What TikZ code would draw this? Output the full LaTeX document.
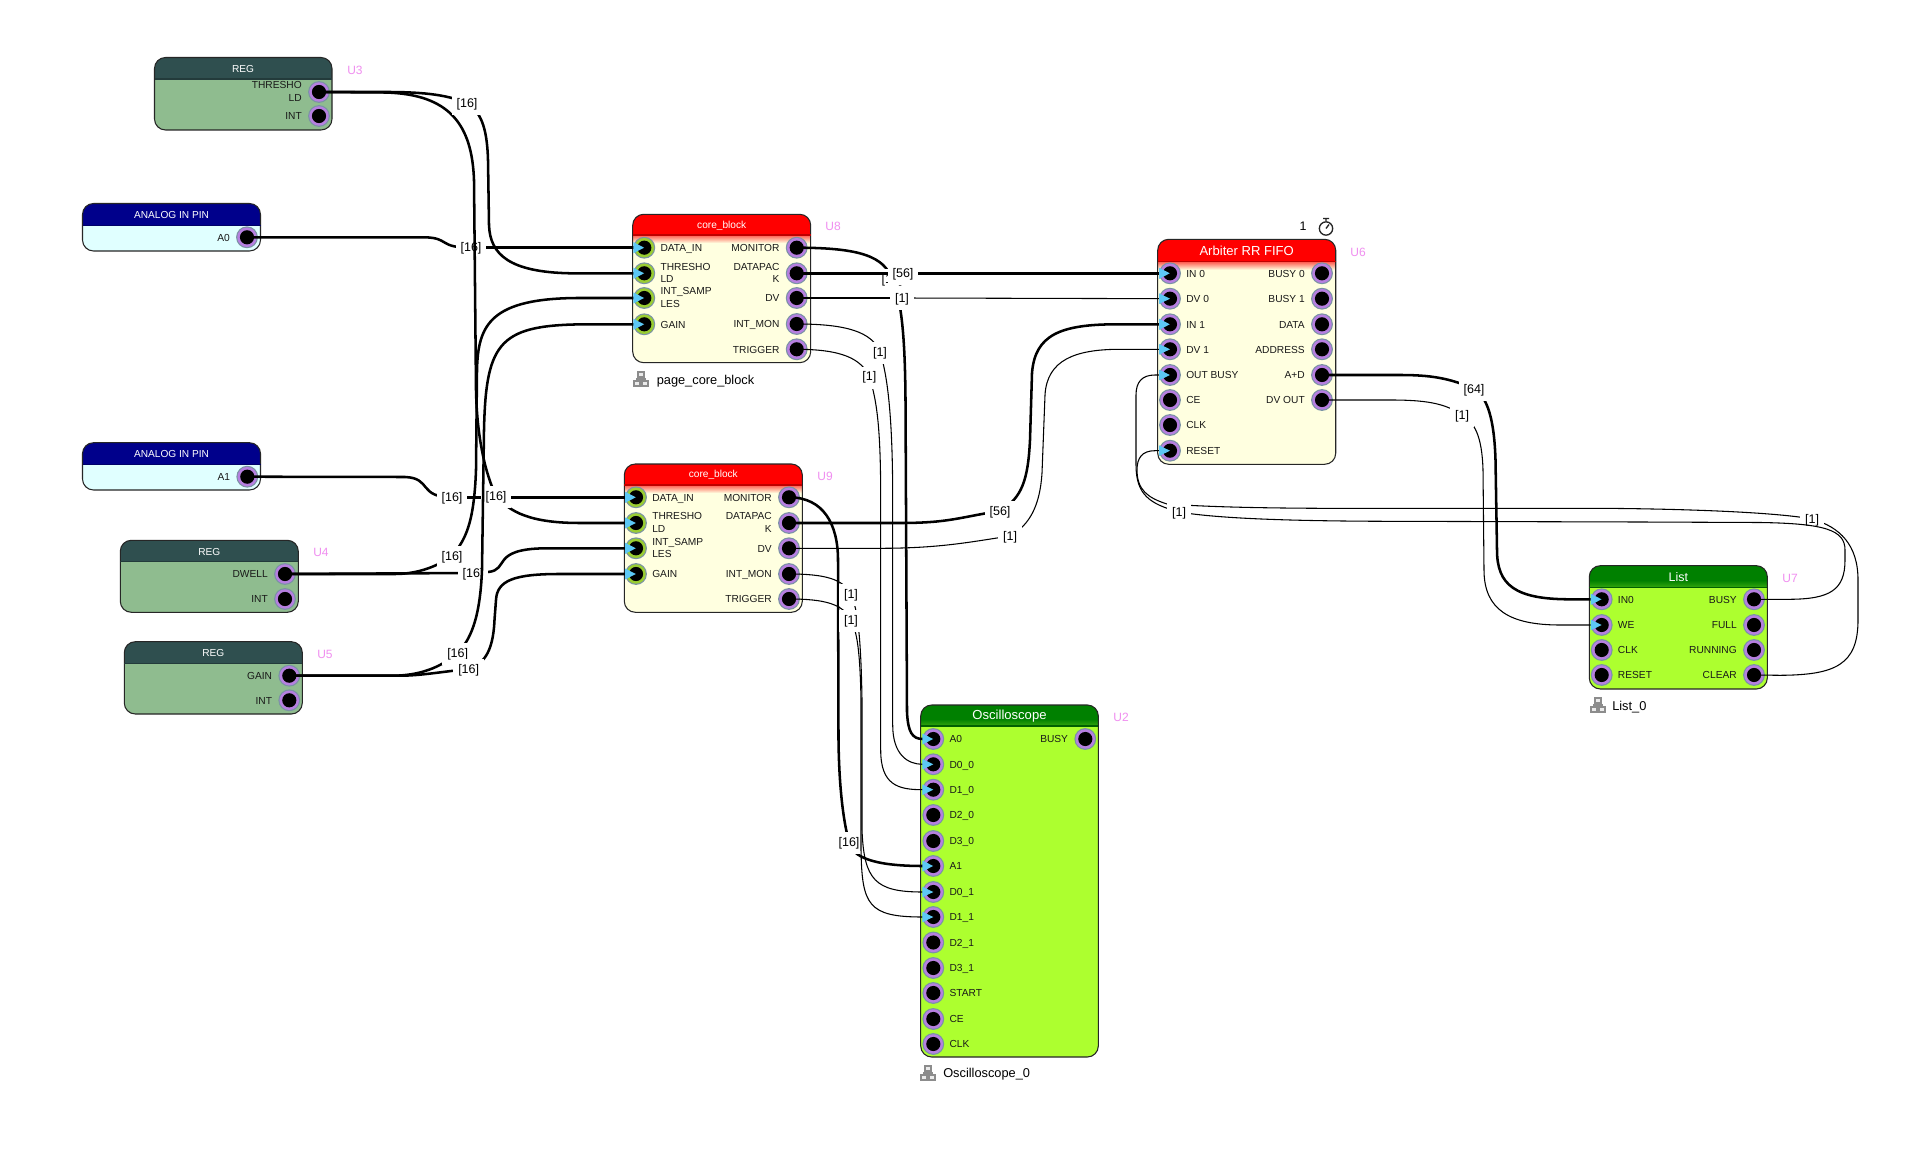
\documentclass[tikz,border=0pt]{standalone}
\usepackage{fontspec}
\setmainfont{Liberation Sans}
\usetikzlibrary{arrows.meta,fit,calc}
\definecolor{regh}{HTML}{2F4F4F}
\definecolor{regb}{HTML}{8FBC8F}
\definecolor{anah}{HTML}{00008B}
\definecolor{anab}{HTML}{E0FFFF}
\definecolor{coreb}{HTML}{FFFFE0}
\definecolor{limeb}{HTML}{ADFF2F}
\definecolor{grnh}{HTML}{008000}
\definecolor{purp}{HTML}{B67FE0}
\definecolor{ygrn}{HTML}{9ACD32}
\definecolor{halo}{HTML}{7B93A5}
\definecolor{tip}{HTML}{5CC8F5}
\definecolor{pinkU}{HTML}{F08FF0}
\tikzset{
  boxnode/.style={inner sep=0pt,rounded corners=8.25pt},
  blockline/.style={draw=black!85,line width=0.8pt,rounded corners=8.25pt},
  oneline/.style={text height=5.6pt,text depth=0pt},
  twoline/.style={yshift=0.4pt},
  pintext/.style={inner sep=0pt,font=\fontsize{7.65}{9.2}\selectfont,text=black!90},
  titletext/.style={inner sep=0pt,text=white,yshift=-0.6pt,font=\fontsize{7.6}{9}\selectfont},
  bigtitle/.style={inner sep=0pt,text=white,yshift=-0.8pt,font=\fontsize{9.8}{11}\selectfont},
  utext/.style={inner sep=0pt,text=pinkU,font=\fontsize{9}{11}\selectfont},
  pagetext/.style={inner sep=0pt,anchor=west,yshift=-0.8pt,font=\fontsize{9.6}{11}\selectfont},
  lbl/.style={fill=white,inner xsep=3.75pt,inner ysep=0pt,minimum height=16.5pt,yshift=-0.7pt,font=\fontsize{9.4}{11}\selectfont},
  bus/.style={draw=black,line width=1.9pt},
  sig/.style={draw=black,line width=0.8pt},
  arr/.style={-{Triangle[length=8.25pt,width=7.8pt,fill=tip,color=tip]}},
}
\newcommand\blk[9]{%
  \coordinate (#1nw) at (#2,#3);
  \coordinate (#1se) at (#4,#5);
  \node[boxnode,fit=(#1nw)(#1se),fill=#8] (#1) {};
  \begin{scope}
    \clip[rounded corners=8.25pt] (#2,#3) rectangle (#4,#5);
    \fill[#7] (#2,#3) rectangle (#4,#6);
    #9
  \end{scope}
  \draw[blockline] (#2,#3) rectangle (#4,#5);
  \draw[#7!75!black,line width=0.8pt] (#2,#6) -- (#4,#6);
}
\newcommand\fadeR[3]{\shade[top color=red!65!coreb,bottom color=coreb] (#1,#3) rectangle (#2,#3+8);}
\newcommand\fadeG[3]{\shade[top color=grnh,bottom color=grnh!70!limeb] (#1,#3-7) rectangle (#2,#3);}
\newcommand\ring[4]{%
  \coordinate (#1) at (#2,#3);
  \fill[halo] (#1) circle[radius=8.2pt];
  \fill[#4] (#1) circle[radius=7.3pt];
  \fill[black] (#1) circle[radius=5.3pt];
}
\newcommand\pinL[6][oneline]{\ring{#2}{#3}{#4}{#5}%
  \node[pintext,#1,align=left,anchor=west] (#2t) at ($(#2)+(16,0)$) {#6};}
\newcommand\pinR[5][oneline]{\ring{#2}{#3}{#4}{purp}%
  \node[pintext,#1,align=right,anchor=east] (#2t) at ($(#2)+(-17,0)$) {#5};}
\newcommand\hier[3]{%
  \draw[black!45,line width=0.8pt,fill=black!8] (#2-3,#3-7) rectangle (#2+3,#3-2);
  \draw[black!45,line width=0.8pt,fill=black!8] (#2-7,#3+2) rectangle (#2-1,#3+7);
  \draw[black!45,line width=0.8pt,fill=black!8] (#2+1,#3+2) rectangle (#2+7,#3+7);
  \draw[black!45,line width=0.8pt] (#2,#3-2) -- (#2,#3) (#2-4,#3+2) -- (#2-4,#3) -- (#2+4,#3) -- (#2+4,#3+2);
}
\newcommand\lab[3]{\node[lbl] (#1) at (#2) {[#3]};}
\begin{document}
\begin{tikzpicture}[x=0.75pt,y=-0.75pt]
\useasboundingbox (0,0) rectangle (1923,1151);
\fill[white] (0,0) rectangle (1923,1151);

% ---- blocks
\blk{U3}{154.5}{57.5}{332}{130}{79}{regh}{regb}{}
\node[titletext] (U3h) at (243,68) {REG};
\node[utext] (U3u) at (355,70) {U3};
\pinR[twoline]{U3a}{319}{92}{THRESHO\\LD}
\pinR{U3b}{319}{116}{INT}

\blk{A0b}{82.5}{203.5}{260.5}{251}{225.7}{anah}{anab}{}
\node[titletext] (A0h) at (171.5,214.5) {ANALOG IN PIN};
\pinR{A0a}{247}{237.3}{A0}

\blk{A1b}{82.5}{442.7}{260.5}{490}{464.7}{anah}{anab}{}
\node[titletext] (A1h) at (171.5,453.7) {ANALOG IN PIN};
\pinR{A1a}{247.3}{476.7}{A1}

\blk{U4}{120.3}{540.3}{298.3}{612.3}{561.3}{regh}{regb}{}
\node[titletext] (U4h) at (209.3,551) {REG};
\node[utext] (U4u) at (321,552) {U4};
\pinR{U4a}{285}{574}{DWELL}
\pinR{U4b}{285}{599}{INT}

\blk{U5}{124.3}{641.7}{302.3}{714}{663.3}{regh}{regb}{}
\node[titletext] (U5h) at (213.3,652.5) {REG};
\node[utext] (U5u) at (325,654) {U5};
\pinR{U5a}{289.3}{675.7}{GAIN}
\pinR{U5b}{289.3}{700.3}{INT}

\blk{U8}{632.7}{214.3}{810.7}{362.7}{235}{red}{coreb}{\fadeR{632.7}{810.7}{235}}
\node[titletext] (U8h) at (721.7,224.7) {core\_block};
\node[utext] (U8u) at (833,226) {U8};
\pinL{U8i1}{644.3}{247.7}{ygrn}{DATA\_IN}
\pinL[twoline]{U8i2}{644.3}{273.3}{ygrn}{THRESHO\\LD}
\pinL[twoline]{U8i3}{644.3}{298}{ygrn}{INT\_SAMP\\LES}
\pinL{U8i4}{644.3}{324.3}{ygrn}{GAIN}
\pinR{U8o1}{796.7}{247.7}{MONITOR}
\pinR[twoline]{U8o2}{796.7}{273.3}{DATAPAC\\K}
\pinR{U8o3}{796.7}{298}{DV}
\pinR{U8o4}{796.7}{324}{INT\_MON}
\pinR{U8o5}{796.7}{349.3}{TRIGGER}
\hier{U8ic}{641}{379}
\node[pagetext] (U8p) at (656.5,380) {page\_core\_block};

\blk{U9}{624.3}{464}{802.3}{612.3}{485}{red}{coreb}{\fadeR{624.3}{802.3}{485}}
\node[titletext] (U9h) at (713.3,474.5) {core\_block};
\node[utext] (U9u) at (825,476) {U9};
\pinL{U9i1}{636}{497.3}{ygrn}{DATA\_IN}
\pinL[twoline]{U9i2}{636}{523}{ygrn}{THRESHO\\LD}
\pinL[twoline]{U9i3}{636}{548.3}{ygrn}{INT\_SAMP\\LES}
\pinL{U9i4}{636}{574}{ygrn}{GAIN}
\pinR{U9o1}{789}{497.3}{MONITOR}
\pinR[twoline]{U9o2}{789}{523}{DATAPAC\\K}
\pinR{U9o3}{789}{548.3}{DV}
\pinR{U9o4}{789}{574}{INT\_MON}
\pinR{U9o5}{789}{599}{TRIGGER}

\blk{U6}{1157.7}{239.3}{1335.7}{464.3}{261.7}{red}{coreb}{\fadeR{1157.7}{1335.7}{261.7}}
\node[bigtitle] (U6h) at (1246.7,250) {Arbiter RR FIFO};
\node[utext] (U6u) at (1358,252) {U6};
\pinL{U6i1}{1170}{273.3}{purp}{IN 0}
\pinL{U6i2}{1170}{298.7}{purp}{DV 0}
\pinL{U6i3}{1170}{324.3}{purp}{IN 1}
\pinL{U6i4}{1170}{349.3}{purp}{DV 1}
\pinL{U6i5}{1170}{375}{purp}{OUT BUSY}
\pinL{U6i6}{1170}{400}{purp}{CE}
\pinL{U6i7}{1170}{425}{purp}{CLK}
\pinL{U6i8}{1170}{450.7}{purp}{RESET}
\pinR{U6o1}{1322}{273.3}{BUSY 0}
\pinR{U6o2}{1322}{298.7}{BUSY 1}
\pinR{U6o3}{1322}{324.3}{DATA}
\pinR{U6o4}{1322}{349.3}{ADDRESS}
\pinR{U6o5}{1322}{375}{A+D}
\pinR{U6o6}{1322}{400}{DV OUT}
\node[inner sep=0pt,font=\fontsize{9.3}{11}\selectfont] (U6n) at (1303,226) {1};
\coordinate (U6w) at (1326,228.5);
\draw[black!85,line width=1pt] (U6w) circle[radius=5pt];
\draw[black!85,line width=1pt] (1326,219) -- (1326,221) (1323,218.5) -- (1329,218.5) (U6w) -- (1329,224.5);

\blk{U7}{1589.3}{565.7}{1767.3}{689}{587.3}{grnh}{limeb}{\fadeG{1589.3}{1767.3}{587.3}}
\node[bigtitle,font=\fontsize{9.3}{11}\selectfont] (U7h) at (1678.3,575.5) {List};
\node[utext] (U7u) at (1790,578) {U7};
\pinL{U7i1}{1601.7}{599.3}{purp}{IN0}
\pinL{U7i2}{1601.7}{625}{purp}{WE}
\pinL{U7i3}{1601.7}{650}{purp}{CLK}
\pinL{U7i4}{1601.7}{675}{purp}{RESET}
\pinR{U7o1}{1754}{599.3}{BUSY}
\pinR{U7o2}{1754}{625}{FULL}
\pinR{U7o3}{1754}{650}{RUNNING}
\pinR{U7o4}{1754}{675}{CLEAR}
\hier{U7ic}{1598}{705}
\node[pagetext] (U7p) at (1612,706.5) {List\_0};

\blk{U2}{920.7}{705}{1098.3}{1057}{726}{grnh}{limeb}{\fadeG{920.7}{1098.3}{726}}
\node[bigtitle] (U2h) at (1009.5,715.5) {Oscilloscope};
\node[utext] (U2u) at (1121,717) {U2};
\pinL{U2i1}{933.3}{739}{purp}{A0}
\pinL{U2i2}{933.3}{764.3}{purp}{D0\_0}
\pinL{U2i3}{933.3}{789.7}{purp}{D1\_0}
\pinL{U2i4}{933.3}{815}{purp}{D2\_0}
\pinL{U2i5}{933.3}{841}{purp}{D3\_0}
\pinL{U2i6}{933.3}{866}{purp}{A1}
\pinL{U2i7}{933.3}{892}{purp}{D0\_1}
\pinL{U2i8}{933.3}{917}{purp}{D1\_1}
\pinL{U2i9}{933.3}{942.5}{purp}{D2\_1}
\pinL{U2i10}{933.3}{968}{purp}{D3\_1}
\pinL{U2i11}{933.3}{993}{purp}{START}
\pinL{U2i12}{933.3}{1019}{purp}{CE}
\pinL{U2i13}{933.3}{1044}{purp}{CLK}
\pinR{U2o1}{1085.3}{739}{BUSY}
\hier{U2ic}{928}{1073}
\node[pagetext] (U2p) at (943,1073.5) {Oscilloscope\_0};

% ---- label positions
\coordinate (cA0) at (471,247.7);
\coordinate (cA1) at (452,497.3);
\coordinate (cT9) at (496,496);
\coordinate (cT8) at (467,103);
\coordinate (cD8) at (452,556);
\coordinate (cD9) at (473,573);
\coordinate (cG8) at (457.7,653);
\coordinate (cG9) at (468.7,669);
\coordinate (cM8) at (892,279);
\coordinate (cP8) at (903,273.3);
\coordinate (cV8) at (902,298);
\coordinate (cI8) at (880,352);
\coordinate (cR8) at (869.3,376.7);
\coordinate (cM9) at (849,842);
\coordinate (cP9) at (1000,511);
\coordinate (cV9) at (1010,536);
\coordinate (cI9) at (851,594);
\coordinate (cR9) at (851,620);
\coordinate (cAD) at (1474,389);
\coordinate (cDO) at (1462,415);
\coordinate (cCL) at (1812,519);
\coordinate (cBS) at (1179,512);

% ---- left nets
\draw[bus] (A0a) -- (425,237.3) .. controls (450,238) and (438,247.7) .. (cA0);
\draw[bus,arr] (cA0) -- (U8i1);
\lab{lA0}{cA0}{16}

\draw[bus] (A1a) -- (405,477) .. controls (432,478) and (418,497.3) .. (cA1);
\draw[bus,arr] (cA1) -- (U9i1);
\lab{lA1}{cA1}{16}

\draw[bus] (U3a) -- (385,92.5) .. controls (450,94) and (472,125) .. (474,180) -- (476,390) .. controls (477,440) and (486,475) .. (cT9);
\draw[bus,arr] (cT9) .. controls (510,512) and (530,523) .. (580,523) -- (U9i2);
\lab{lT9}{cT9}{16}

\draw[bus] (U3a) -- (385,92) .. controls (420,92) and (445,94) .. (cT8);
\draw[bus,arr] (cT8) .. controls (480,112) and (487,125) .. (488,160) -- (489,225) .. controls (490,255) and (510,272) .. (570,273.3) -- (U8i2);
\lab{lT8}{cT8}{16}

\draw[bus] (U4a) -- (395,574) .. controls (415,574) and (435,568) .. (cD8);
\draw[bus,arr] (cD8) .. controls (465,540) and (474,525) .. (476,470) -- (477,370) .. controls (478,325) and (490,298) .. (580,298) -- (U8i3);
\lab{lD8}{cD8}{16}

\draw[bus] (U4a) -- (cD9);
\draw[bus,arr] (cD9) -- (488,572) .. controls (510,570) and (490,549) .. (545,548.3) -- (U9i3);
\lab{lD9}{cD9}{16}

\draw[bus] (U5a) -- (395,675.7) .. controls (420,675) and (440,668) .. (cG8);
\draw[bus,arr] (cG8) .. controls (470,640) and (480,620) .. (482,570) -- (484,430) .. controls (486,340) and (500,324.3) .. (590,324.3) -- (U8i4);
\lab{lG8}{cG8}{16}

\draw[bus] (U5a) -- (400,675.7) .. controls (420,675.7) and (440,672) .. (cG9);
\draw[bus,arr] (cG9) .. controls (482,664) and (493,655) .. (494.5,620) -- (496,600) .. controls (497,580) and (515,574) .. (560,574) -- (U9i4);
\lab{lG9}{cG9}{16}

% ---- U8 outputs
\draw[bus] (U8o1) .. controls +(65,0) and +(-8,-22) .. (cM8);
\draw[bus,arr] (cM8) .. controls (902,300) and (905,340) .. (905.5,400) -- (907,712) .. controls (908,732) and (912,739) .. (U2i1);
\lab{lM8}{cM8}{16}

\draw[bus] (U8o2) -- (cP8);
\draw[bus,arr] (cP8) -- (U6i1);
\lab{lP8}{cP8}{56}

\draw[sig] (U8o3) -- (cV8);
\draw[sig,arr] (cV8) -- (U6i2);
\lab{lV8}{cV8}{1}

\draw[sig] (U8o4) .. controls +(50,0) and +(-8,-20) .. (cI8);
\draw[sig,arr] (cI8) .. controls +(8,25) and (892.7,420) .. (892.7,500) -- (892.7,725) .. controls (892.7,755) and (908,764.3) .. (U2i2);
\lab{lI8}{cI8}{1}

\draw[sig] (U8o5) .. controls +(45,0) and +(-8,-18) .. (cR8);
\draw[sig,arr] (cR8) .. controls +(8,25) and (880.7,430) .. (880.7,500) -- (880.7,750) .. controls (880.7,785) and (898,789.7) .. (U2i3);
\lab{lR8}{cR8}{1}

% ---- U9 outputs
\draw[bus] (U9o1) .. controls +(35,0) and (838,525) .. (838,560) -- (838.5,740) .. controls (839,785) and (843,820) .. (cM9);
\draw[bus,arr] (cM9) .. controls (852,857) and (873,866) .. (U2i6);
\lab{lM9}{cM9}{16}

\draw[bus] (U9o2) -- (900,523) .. controls +(50,0) and (960,517) .. (cP9);
\draw[bus,arr] (cP9) .. controls (1022,498) and (1028,480) .. (1030,440) -- (1032,373) .. controls (1035,335) and (1060,324.3) .. (1117,324.3) -- (U6i3);
\lab{lP9}{cP9}{56}

\draw[sig] (U9o3) -- (880,548.3) .. controls (940,548.3) and (970,542) .. (cV9);
\draw[sig,arr] (cV9) .. controls (1030,525) and (1040,505) .. (1042,473) -- (1045,395) .. controls (1047,360) and (1075,349.3) .. (1120,349.3) -- (U6i4);
\lab{lV9}{cV9}{1}

\draw[sig] (U9o4) .. controls +(36,0) and (843,579) .. (cI9);
\draw[sig,arr] (cI9) .. controls (858,610) and (861,640) .. (862,700) -- (862,830) .. controls (864,880) and (875,892) .. (U2i7);
\lab{lI9}{cI9}{1}

\draw[sig] (U9o5) .. controls +(36,0) and (843,604) .. (cR9);
\draw[sig,arr] (cR9) .. controls (857,632) and (860,650) .. (861,700) -- (861,850) .. controls (862,905) and (868,917) .. (U2i8);
\lab{lR9}{cR9}{1}

% ---- U6 outputs
\draw[bus] (U6o5) -- (1400,375) .. controls (1430,375) and (1450,378) .. (cAD);
\draw[bus,arr] (cAD) .. controls (1484,395) and (1494,410) .. (1495.5,460) -- (1497,550) .. controls (1497,585) and (1515,599.3) .. (1570,599.3) -- (U7i1);
\lab{lAD}{cAD}{64}

\draw[sig] (U6o6) -- (1390,400) .. controls (1425,400) and (1445,403) .. (cDO);
\draw[sig,arr] (cDO) .. controls (1474,422) and (1482,435) .. (1483,470) -- (1484,570) .. controls (1484,610) and (1510,625) .. (1560,625) -- (U7i2);
\lab{lDO}{cDO}{1}

% ---- feedback nets
\draw[sig] (U7o4) -- (1780,675.3) .. controls (1835,675) and (1858,665) .. (1858,620) -- (1858,580) .. controls (1858,545) and (1840,527) .. (cCL);
\draw[sig,arr] (cCL) .. controls (1780,513) and (1700,509) .. (1600,508.3) -- (1320,508.3) .. controls (1260,508) and (1210,507) .. (1167,504) .. controls (1148,498) and (1137,490) .. (1137,470) .. controls (1137,458) and (1142,450.7) .. (1155,450.7) -- (U6i8);
\lab{lCL}{cCL}{1}

\draw[sig] (U7o1) -- (1790,599.3) .. controls (1830,599) and (1845,590) .. (1845,560) -- (1845,550) .. controls (1845,530) and (1825,523.5) .. (1760,522.5) -- (1640,522) -- (1387,521.3) .. controls (1280,521) and (1215,518) .. (cBS);
\draw[sig,arr] (cBS) .. controls (1150,504) and (1136,495) .. (1136,465) -- (1136,395) .. controls (1136,382) and (1142,375) .. (1155,375) -- (U6i5);
\lab{lBS}{cBS}{1}
\end{tikzpicture}
\end{document}
